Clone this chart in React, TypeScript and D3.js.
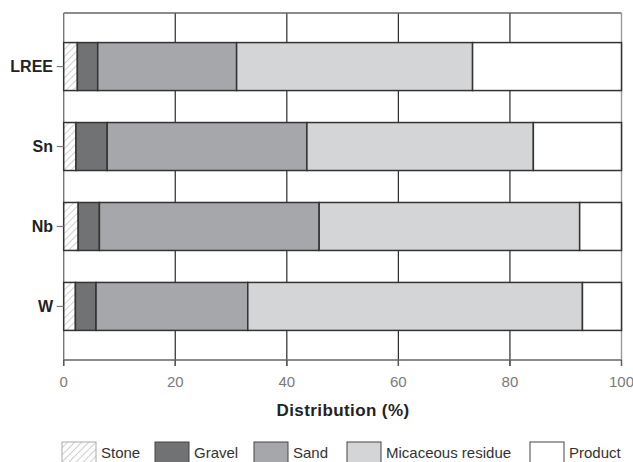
import React from "react";
import * as d3 from "d3";

const categories = ["LREE", "Sn", "Nb", "W"];
const seriesNames = ["Stone", "Gravel", "Sand", "Micaceous residue", "Product"];
const stone = [2.45, 2.2, 2.6, 2.1];
const gravel = [3.65, 5.6, 3.8, 3.7];
const sand = [24.9, 35.8, 39.4, 27.2];
const micaceous = [42.3, 40.6, 46.7, 60.0];
const product = [26.7, 15.8, 7.5, 7.0];
const xTicks = [0, 20, 40, 60, 80, 100];

const fills = ["url(#hatch)", "#717273", "#a6a7aa", "#d4d5d7", "#ffffff"];

export default function App() {
  const W = 633, H = 462;
  const left = 63.7, right = 621.5, top = 13, bottom = 360;
  const x = d3.scaleLinear().domain([0, 100]).range([left, right]);
  const y = d3.scaleBand().domain(categories).range([top, bottom]).paddingInner(0.4).paddingOuter(0.37);
  const series = [stone, gravel, sand, micaceous, product];
  const rows = categories.map((c, i) => {
    const obj: any = { cat: c };
    seriesNames.forEach((s, j) => (obj[s] = series[j][i]));
    return obj;
  });
  const stacked = d3.stack().keys(seriesNames)(rows);

  const legendX = [62, 155, 254, 347, 530];
  const legendW = 34;

  return (
    <svg width={W} height={H} style={{ position: "absolute", left: 0, top: 0, fontFamily: "Liberation Sans, Arial, sans-serif" }}>
      <defs>
        <pattern id="hatch" patternUnits="userSpaceOnUse" width="5" height="5" patternTransform="rotate(45)">
          <rect width="5" height="5" fill="#fff" />
          <line x1="0" y1="0" x2="0" y2="5" stroke="#9a9a9a" strokeWidth="0.9" />
        </pattern>
      </defs>
      <rect x={0} y={0} width={W} height={H} fill="#fff" />
      {xTicks.slice(1, -1).map((t) => (
        <line key={t} x1={x(t)} x2={x(t)} y1={top} y2={bottom + 6} stroke="#2a2a2a" strokeWidth={1.2} />
      ))}
      <line x1={left} x2={right} y1={top} y2={top} stroke="#666" strokeWidth={1.4} />
      <line x1={right} x2={right} y1={top} y2={bottom + 6} stroke="#999" strokeWidth={1.4} />
      <line x1={left} x2={left} y1={top} y2={bottom + 6} stroke="#777" strokeWidth={1.4} />
      <line x1={left} x2={right} y1={bottom} y2={bottom} stroke="#666" strokeWidth={1.4} />
      {xTicks.map((t) => (
        <g key={t}>
          <line x1={x(t)} x2={x(t)} y1={bottom} y2={bottom + 6} stroke="#555" strokeWidth={1.2} />
          <text x={x(t)} y={387} textAnchor="middle" fontSize={15} fill="#7a7a7a">{t}</text>
        </g>
      ))}
      {stacked.map((s, j) => (
        <g key={s.key}>
          {s.map((d, i) => (
            <rect key={i} x={x(d[0])} y={y(categories[i])!} width={x(d[1]) - x(d[0])} height={y.bandwidth()}
              fill={fills[j]} stroke="#333" strokeWidth={1.5} />
          ))}
        </g>
      ))}
      {categories.map((c) => (
        <g key={c}>
          <line x1={left - 7} x2={left} y1={y(c)! + y.bandwidth() / 2} y2={y(c)! + y.bandwidth() / 2} stroke="#777" strokeWidth={1.2} />
          <text x={53} y={y(c)! + y.bandwidth() / 2 + 5.5} textAnchor="end" fontSize={16} fontWeight="bold" fill="#222">{c}</text>
        </g>
      ))}
      <text x={343} y={416} textAnchor="middle" fontSize={17} letterSpacing={0.4} fontWeight="bold" fill="#222">Distribution (%)</text>
      {seriesNames.map((s, j) => (
        <g key={s}>
          <rect x={legendX[j]} y={442} width={legendW} height={22} fill={fills[j]} stroke={j === 0 ? "#aaa" : "#444"} strokeWidth={1} />
          <text x={legendX[j] + legendW + 5} y={457.5} fontSize={15} fill="#333">{s}</text>
        </g>
      ))}
    </svg>
  );
}
